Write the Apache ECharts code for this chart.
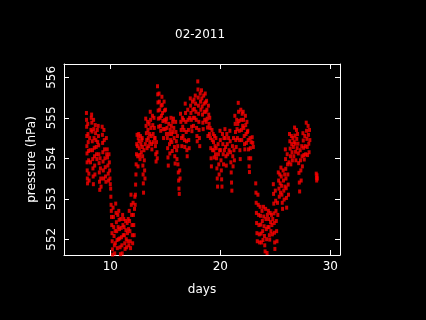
<!DOCTYPE html>
<html>
<head>
<meta charset="utf-8">
<script src="https://cdn.jsdelivr.net/npm/echarts@6/dist/echarts.min.js"></script>
<style>
html,body{margin:0;padding:0;background:#000;}
#chart{width:426px;height:320px;}
</style>
</head>
<body>
<div id="chart"></div>
<script>
// ---- data: [day of month, pressure hPa] ----
var days08to10 = [
[7.83,555.12],[7.84,554.95],[7.85,554.78],[7.86,554.55],[7.87,554.30],[7.88,554.12],[7.89,553.90],[7.90,553.70],[7.91,553.50],[7.93,553.38],[7.95,554.85],[7.97,554.60],[7.99,554.40],[8.01,554.18],[8.03,553.95],[8.05,553.62],[8.07,553.45],
[8.12,554.5],[8.16,554.2],[8.2,553.9],[8.24,554.7],[8.27,555.0],
[8.30,555.08],[8.32,554.88],[8.34,554.66],[8.36,554.42],[8.38,554.20],[8.40,553.98],[8.42,553.75],[8.44,553.55],[8.46,553.36],[8.48,554.95],[8.50,554.72],[8.52,554.50],[8.54,554.26],[8.56,554.05],[8.58,553.82],[8.60,553.6],
[8.63,554.82],[8.66,554.62],[8.69,554.45],[8.72,554.28],[8.75,554.1],[8.78,553.98],[8.82,554.7],[8.85,554.4],
[8.90,554.80],[8.92,554.55],[8.94,554.32],[8.96,554.10],[8.98,553.88],[9.00,553.65],[9.02,553.42],[9.04,553.22],[9.07,554.0],[9.10,553.75],[9.13,553.5],[9.16,553.3],
[9.26,554.78],[9.28,554.58],[9.30,554.38],[9.32,554.15],[9.34,553.92],[9.36,553.70],[9.38,553.5],[9.42,554.70],[9.45,554.45],[9.48,554.22],[9.51,554.0],[9.54,553.78],[9.57,553.55],[9.60,553.42],[9.64,554.5],[9.67,554.1],
[9.72,554.22],[9.75,554.02],[9.78,553.82],[9.81,553.62],[9.84,553.45],[9.88,554.1],[9.91,553.9],[9.94,553.7],[9.97,553.5],[10.0,553.36]
];
var days10to12 = [
[10.03,553.25],[10.05,553.05],[10.07,552.85],[10.09,552.7],
[10.11,552.55],[10.13,552.35],[10.15,552.15],[10.17,551.95],[10.19,551.75],[10.21,551.62],[10.25,552.78],[10.28,552.55],[10.31,552.3],[10.34,552.08],[10.37,551.85],[10.40,551.65],[10.44,552.2],[10.46,551.9],
[10.49,552.88],[10.52,552.65],[10.55,552.42],[10.58,552.2],[10.61,551.98],[10.64,551.78],[10.68,552.6],[10.71,552.3],[10.74,552.0],
[10.77,552.70],[10.80,552.48],[10.83,552.25],[10.86,552.02],[10.89,551.8],[10.92,551.63],[10.96,552.5],[10.99,552.28],[11.02,552.05],[11.05,551.85],[11.08,551.65],[11.12,552.6],[11.15,552.35],[11.18,552.1],
[11.22,552.5],[11.25,552.3],[11.28,552.1],[11.31,551.9],[11.34,551.76],[11.39,552.45],[11.42,552.22],[11.45,552.0],[11.48,551.8],[11.53,552.4],[11.56,552.15],[11.59,551.95],[11.63,552.5],[11.66,552.25],[11.69,551.85],
[11.72,552.7],[11.75,552.45],[11.78,552.2],[11.81,551.95],[11.84,551.78],[11.88,553.1],[11.91,552.85],[11.94,552.6],[11.97,552.35]
];
var days12to14 = [
[12.0,552.1],[12.03,551.9],[12.07,552.9],[12.1,552.6],[12.13,552.35],[12.17,552.1],[12.2,552.75],[12.23,553.05],
[12.26,552.85],[12.28,553.1],[12.30,553.35],[12.33,553.6],[12.35,553.85],[12.38,554.1],[12.40,554.35],[12.43,554.58],[12.46,554.3],[12.49,554.05],[12.52,553.8],[12.54,554.5],
[12.58,554.6],[12.61,554.42],[12.64,554.25],[12.67,554.08],[12.70,553.98],[12.74,554.55],[12.78,554.35],[12.82,554.15],[12.86,554.45],
[12.90,554.5],[12.92,554.28],[12.94,554.05],[12.96,553.82],[12.98,553.6],[13.0,553.38],[13.02,553.15],[13.06,554.2],[13.09,553.95],[13.12,553.7],[13.15,553.5],[13.18,554.35],
[13.22,554.98],[13.25,554.8],[13.28,554.62],[13.31,554.45],[13.34,554.25],[13.39,554.9],[13.42,554.7],[13.45,554.5],[13.48,554.3],[13.53,554.85],[13.56,554.6],[13.59,554.4],
[13.63,555.15],[13.66,554.95],[13.69,554.75],[13.72,554.55],[13.75,554.35],[13.78,554.22],[13.83,555.05],[13.86,554.82],[13.89,554.6],[13.92,554.4],[13.97,555.0],[14.0,554.75],[14.03,554.5]
];
var days14to16 = [
[14.07,554.5],[14.10,554.3],[14.13,554.1],[14.16,553.92],[14.20,554.4],[14.24,554.15],[14.27,554.0],
[14.29,555.78],[14.31,555.58],[14.33,555.38],[14.35,555.18],[14.37,554.98],[14.39,554.78],[14.43,555.6],[14.46,555.4],[14.49,555.2],[14.52,555.0],[14.55,554.8],[14.58,554.68],[14.62,555.3],[14.65,555.05],
[14.69,555.52],[14.72,555.32],[14.75,555.12],[14.78,554.92],[14.81,554.72],[14.84,554.5],[14.89,555.4],[14.92,555.18],[14.95,554.95],[14.98,554.72],[15.02,555.2],[15.06,554.9],[15.1,554.6],
[15.12,554.98],[15.15,554.75],[15.18,554.5],[15.21,554.25],[15.24,554.02],[15.27,553.82],[15.32,554.85],[15.35,554.6],[15.38,554.35],[15.41,554.12],[15.45,554.7],[15.48,554.45],
[15.51,555.0],[15.54,554.8],[15.57,554.6],[15.60,554.4],[15.63,554.18],[15.67,554.9],[15.70,554.65],
[15.74,554.98],[15.77,554.75],[15.80,554.5],[15.83,554.28],[15.86,554.05],[15.89,553.87],[15.94,554.9],[15.97,554.65]
];
var days16to18 = [
[16.0,554.42],[16.03,554.2],[16.06,553.98],[16.1,554.55],[16.13,554.3],
[16.15,553.85],[16.18,553.65],[16.21,553.45],[16.24,553.25],[16.27,553.12],[16.31,553.7],[16.34,553.5],
[16.38,555.1],[16.41,554.9],[16.44,554.7],[16.47,554.5],[16.50,554.3],[16.55,555.0],[16.58,554.78],[16.61,554.55],[16.66,554.95],[16.70,554.7],[16.74,554.45],[16.77,554.28],
[16.81,555.35],[16.84,555.12],[16.87,554.9],[16.90,554.65],[16.93,554.42],[16.96,554.2],[16.99,554.05],[17.04,555.2],[17.07,554.95],[17.10,554.7],[17.13,554.45],[17.17,554.25],[17.21,555.0],
[17.27,555.48],[17.30,555.3],[17.33,555.12],[17.36,554.95],[17.39,554.78],[17.42,554.67],[17.47,555.4],[17.50,555.2],[17.53,555.0],[17.56,554.8],[17.61,555.45],[17.64,555.22],[17.67,555.0],
[17.72,555.55],[17.75,555.35],[17.78,555.15],[17.81,554.95],[17.84,554.75],[17.87,554.55],[17.90,554.42],[17.95,555.9],[17.97,555.7],[17.99,555.5]
];
var days18to20 = [
[18.01,555.3],[18.03,555.1],[18.05,554.9],[18.07,554.7],[18.10,554.5],[18.13,554.3],
[18.17,555.6],[18.2,555.4],[18.23,555.2],[18.29,555.68],[18.32,555.48],[18.35,555.28],[18.38,555.08],[18.41,554.88],[18.44,554.72],[18.49,555.55],[18.52,555.35],[18.55,555.15],[18.58,554.95],[18.63,555.6],[18.66,555.38],[18.69,555.15],[18.72,554.9],
[18.75,555.42],[18.78,555.2],[18.81,554.98],[18.84,554.76],[18.87,554.55],[18.92,555.3],[18.95,555.08],[18.98,554.85],[19.01,554.6],
[19.04,555.0],[19.07,554.75],[19.10,554.5],[19.13,554.25],[19.16,554.0],[19.19,553.8],[19.24,554.7],[19.27,554.45],[19.30,554.2],
[19.35,554.6],[19.38,554.4],[19.41,554.2],[19.44,554.02],[19.48,554.55],[19.52,554.3],[19.56,554.1],
[19.6,554.5],[19.63,554.25],[19.66,554.0],[19.69,553.75],[19.72,553.5],[19.75,553.3],[19.8,554.35],[19.83,554.1],[19.86,553.85],[19.89,553.6],[19.93,554.2],
[19.97,554.68]
];
var days20to22 = [
[20.0,554.45],[20.03,554.2],[20.06,553.95],[20.09,553.7],[20.12,553.48],[20.15,553.3],[20.2,554.6],[20.23,554.35],[20.26,554.1],[20.29,553.85],[20.33,554.5],[20.37,554.2],
[20.42,554.72],[20.45,554.5],[20.48,554.28],[20.51,554.05],[20.54,553.82],[20.59,554.6],[20.63,554.35],[20.67,554.1],
[20.75,554.5],[20.8,554.2],[20.87,554.68],[20.9,554.42],[20.93,554.15],[20.96,553.9],[20.99,553.65],[21.02,553.4],[21.05,553.2],[21.1,554.3],[21.13,554.05],[21.16,553.8],[21.2,554.5],[21.24,554.2],[21.28,553.95],
[21.32,555.05],[21.35,554.85],[21.38,554.65],[21.41,554.45],[21.44,554.28],[21.49,554.95],[21.52,554.72],[21.55,554.5],[21.59,554.85],
[21.63,555.37],[21.66,555.15],[21.69,554.92],[21.72,554.68],[21.75,554.45],[21.78,554.2],[21.81,553.98],[21.86,555.2],[21.89,554.95],[21.92,554.7],[21.95,554.45],[21.99,555.1]
];
var days22to24 = [
[22.03,554.8],
[22.08,555.15],[22.11,554.95],[22.14,554.75],[22.17,554.55],[22.20,554.35],[22.23,554.22],[22.28,555.05],[22.31,554.82],[22.34,554.6],[22.37,554.38],[22.42,554.9],[22.46,554.65],
[22.50,554.68],[22.53,554.45],[22.56,554.22],[22.59,554.0],[22.62,553.8],[22.65,553.66],[22.70,554.5],[22.73,554.25],[22.76,554.0],[22.80,554.4],
[22.9,554.52],[22.95,554.38],[23.0,554.28],
[23.22,553.38],[23.24,553.15],[23.26,552.9],[23.28,552.65],[23.30,552.4],[23.33,552.15],[23.36,551.95],[23.42,553.1],[23.45,552.85],[23.48,552.6],[23.51,552.35],[23.54,552.12],[23.57,551.92],
[23.62,552.8],[23.65,552.58],[23.68,552.36],[23.71,552.14],[23.74,551.92],[23.79,552.7],[23.82,552.45],[23.85,552.2],[23.88,551.98],
[23.92,552.8],[23.95,552.56],[23.98,552.32]
];
var days24to26 = [
[24.01,552.08],[24.04,551.85],[24.07,551.7],[24.12,552.75],[24.15,552.5],[24.18,552.25],[24.21,552.0],[24.25,551.66],[24.28,552.6],[24.32,552.3],
[24.37,552.7],[24.40,552.5],[24.43,552.3],[24.46,552.1],[24.49,551.99],[24.54,552.65],[24.57,552.42],[24.60,552.2],[24.65,552.6],[24.69,552.35],[24.73,552.12],[24.77,552.5],
[24.82,553.36],[24.84,553.12],[24.86,552.88],[24.88,552.64],[24.90,552.4],[24.92,552.16],[24.94,551.92],[24.96,551.76],[25.0,553.2],[25.03,552.95],[25.06,552.7],[25.09,552.45],[25.12,552.2],[25.15,551.95],[25.2,552.9],[25.23,552.6],
[25.27,553.65],[25.30,553.45],[25.33,553.25],[25.36,553.05],[25.41,553.6],[25.44,553.38],[25.47,553.15],
[25.51,553.77],[25.54,553.55],[25.57,553.32],[25.60,553.1],[25.63,552.9],[25.66,552.75],[25.71,553.7],[25.74,553.45],[25.77,553.2],[25.80,552.98],[25.85,553.6],[25.88,553.3],
[25.91,554.22],[25.93,553.98],[25.95,553.74],[25.97,553.5],[25.99,553.26]
];
var days26to29 = [
[26.01,553.02],[26.03,552.78],[26.08,554.1],[26.11,553.85],[26.14,553.6],[26.17,553.35],[26.2,553.1],[26.24,553.9],
[26.29,554.6],[26.32,554.42],[26.35,554.24],[26.38,554.05],[26.41,553.85],[26.46,554.55],[26.49,554.35],[26.52,554.15],[26.55,553.95],[26.6,554.5],[26.64,554.28],[26.68,554.05],[26.71,554.4],
[26.75,554.76],[26.78,554.56],[26.81,554.36],[26.84,554.16],[26.87,553.95],[26.92,554.7],[26.95,554.48],[26.98,554.25],[27.02,554.6],
[27.06,554.36],[27.09,554.12],[27.12,553.88],[27.15,553.64],[27.18,553.4],[27.21,553.18],[27.26,554.2],[27.29,553.95],[27.32,553.7],[27.35,553.45],[27.40,554.3],[27.43,554.05],[27.46,553.8],
[27.51,554.62],[27.54,554.44],[27.57,554.26],[27.60,554.08],[27.63,553.97],[27.68,554.55],[27.72,554.3],[27.76,554.1],
[27.81,554.88],[27.84,554.68],[27.87,554.48],[27.90,554.28],[27.93,554.08],[27.98,554.8],[28.01,554.58],[28.04,554.36],[28.07,554.15],[28.11,554.7],[28.14,554.45],
[28.72,553.62],[28.74,553.52],[28.76,553.45],[28.79,553.58],[28.82,553.5]
];

var xTicks = [10, 20, 30];
var yTicks = [552, 553, 554, 555, 556];
var titleText = '02-2011';
var xName = 'days';
var yName = 'pressure (hPa)';

var allPoints = [].concat(days08to10, days10to12, days12to14, days14to16,
  days16to18, days18to20, days20to22, days22to24, days24to26, days26to29);

var FONT = 'DejaVu Sans';
var xMin = 5.79, xMax = 30.88, yMin = 551.61, yMax = 556.33;

function xAxisCfg(pos, labels) {
  return {
    type: 'value', position: pos, min: xMin, max: xMax,
    name: labels ? xName : '', nameLocation: 'middle', nameGap: 29,
    nameTextStyle: {color: '#fff', fontFamily: FONT, fontSize: 12},
    axisLine: {show: true, onZero: false, lineStyle: {color: '#fff', width: 1}},
    axisTick: {show: true, inside: true, length: 5, customValues: xTicks, lineStyle: {color: '#fff'}},
    axisLabel: {show: labels, customValues: xTicks, margin: 6, color: '#fff', fontFamily: FONT, fontSize: 12},
    splitLine: {show: false}
  };
}
function yAxisCfg(pos, labels) {
  return {
    type: 'value', position: pos, min: yMin, max: yMax,
    name: labels ? yName : '', nameLocation: 'middle', nameGap: 20, nameRotate: 90,
    nameTextStyle: {color: '#fff', fontFamily: FONT, fontSize: 12},
    axisLine: {show: true, onZero: false, lineStyle: {color: '#fff', width: 1}},
    axisTick: {show: true, inside: true, length: 5, customValues: yTicks, lineStyle: {color: '#fff'}},
    axisLabel: {show: labels, customValues: yTicks, rotate: 90, margin: 6, color: '#fff', fontFamily: FONT, fontSize: 12},
    splitLine: {show: false}
  };
}

var chart = echarts.init(document.getElementById('chart'), null, {renderer: 'canvas'});
chart.setOption({
  backgroundColor: '#000',
  animation: false,
  title: {
    text: titleText, left: 170, top: 24, padding: 5,
    textStyle: {color: '#fff', fontFamily: FONT, fontSize: 12, fontWeight: 'normal'}
  },
  grid: {left: 64, top: 64, right: 86, bottom: 65, show: false},
  xAxis: [xAxisCfg('bottom', true), xAxisCfg('top', false)],
  yAxis: [yAxisCfg('left', true), yAxisCfg('right', false)],
  series: [{
    type: 'scatter',
    xAxisIndex: 0, yAxisIndex: 0,
    data: allPoints,
    symbol: 'rect',
    symbolSize: [3, 4],
    itemStyle: {color: '#ff0000'},
    silent: true,
    clip: true
  }]
});
</script>
</body>
</html>
